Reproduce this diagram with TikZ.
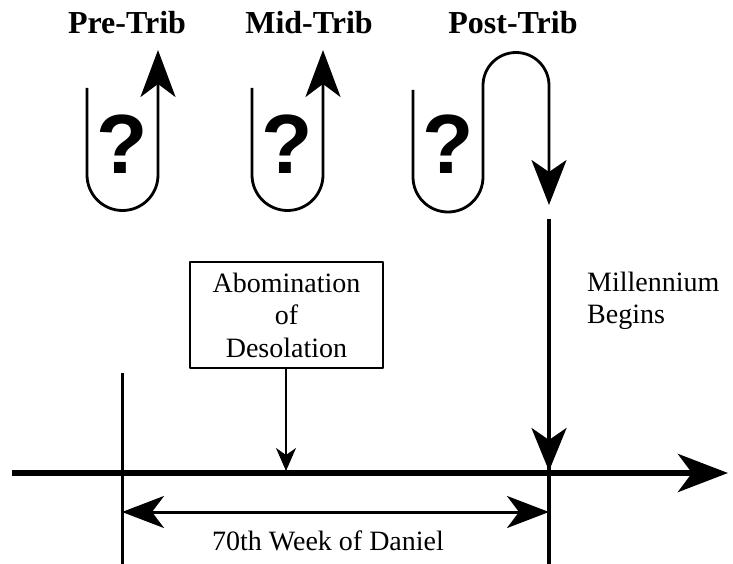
\documentclass[tikz,border=0pt]{standalone}
\usepackage{fontspec}
\setmainfont{Liberation Serif}
\newfontfamily\qfont{Liberation Sans}
\usetikzlibrary{arrows.meta}
\tikzset{
  title/.style={font=\rmfamily\bfseries\fontsize{32}{33}\selectfont,inner sep=0pt},
  qmark/.style={font=\qfont\bfseries\fontsize{84}{84}\selectfont,inner sep=0pt},
  uline/.style={line width=2.8pt},
  uptip/.style={-{Stealth[length=47pt,width=35pt,inset=13pt]}},
}
\begin{document}
\begin{tikzpicture}[x=1pt,y=-1pt,line join=round,font=\rmfamily\fontsize{28}{32.5}\selectfont]
\useasboundingbox (0,0) rectangle (733,564);
\def\ty{473} \def\xa{122} \def\xb{549} \def\yw{512}
% titles and question marks
\node[title] (pre) at (127,23) {Pre-Trib};
\node[title] (mid) at (309,23) {Mid-Trib};
\node[title] (post) at (513,23) {Post-Trib};
\foreach \n/\x in {q1/122,q2/287,q3/448}
\node[qmark] (\n) at (\x,144) {?};
% the U turns
\foreach \l in {87,252}
\draw[uline,uptip] (\l,88)--(\l,175) arc (180:0:35.5)--(\l+71,50);
\draw[uline,-{Stealth[length=45pt,width=35pt,inset=12pt]}] (413,90)--(413,177) arc (180:0:35)--(483,85.5) arc (180:360:33)--(549,205);
% time line
\coordinate (start) at (12,\ty);
\coordinate (end) at (728,\ty);
\coordinate (top) at (\xb,219);
\coordinate (hit) at (\xb,471);
\coordinate (a0) at (\xa,373);
\coordinate (a1) at (\xa,564);
\coordinate (b1) at (\xb,564);
\coordinate (wl) at (\xa,\yw);
\coordinate (wr) at (\xb,\yw);
\draw[line width=6pt,-{Stealth[length=50pt,width=38pt,inset=14pt]}] (start)--(end);
\draw[line width=3pt] (a0)--(a1);
\draw[line width=4pt] (top)--(b1);
\draw[line width=4pt,-{Stealth[length=43pt,width=35pt,inset=12pt]}] (top)--(hit);
\draw[line width=3pt,{Stealth[length=42pt,width=32pt,inset=12pt]}-{Stealth[length=42pt,width=32pt,inset=12pt]}] (wl)--(wr);
\node (week) at (328,541) {70th Week of Daniel};
% abomination
\node[draw,line width=2pt,minimum width=193pt,minimum height=106pt,align=center,inner sep=0pt] (abom) at (286.5,315) {Abomination\\of\\Desolation};
\coordinate (ahit) at (286,471);
\draw[line width=1.5pt,-{Stealth[length=23pt,width=20pt,inset=7pt]}] (abom.south -| ahit)--(ahit);
\node[anchor=west,align=left,inner sep=0pt] (mill) at (587,301) {Millennium\\Begins};
\end{tikzpicture}
\end{document}
